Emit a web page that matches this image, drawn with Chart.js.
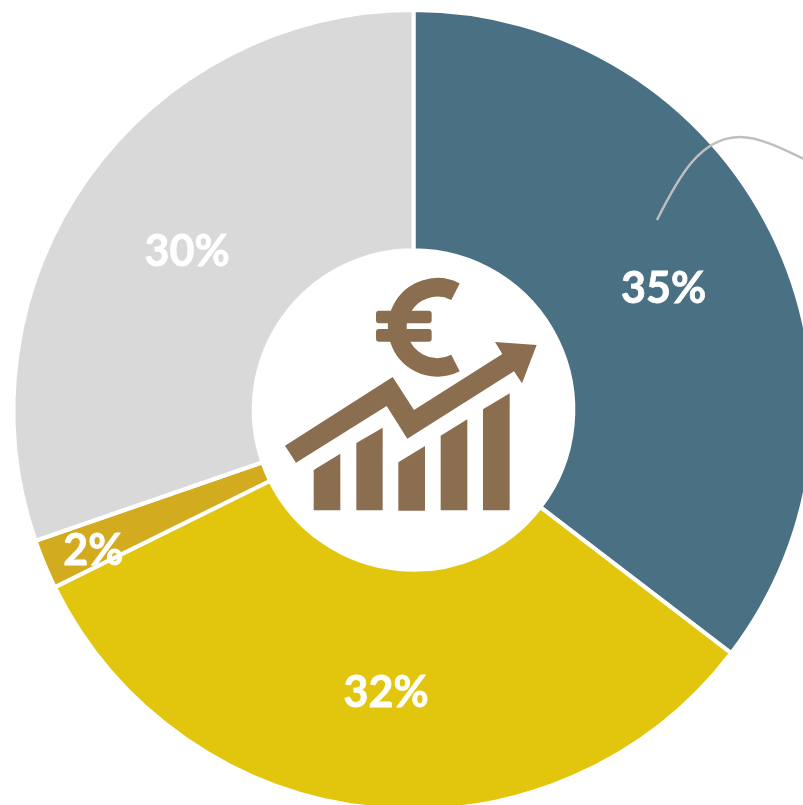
<!DOCTYPE html>
<html>
<head>
<meta charset="utf-8">
<style>
html,body{margin:0;padding:0;background:#fff;overflow:hidden;width:803px;height:805px}
#wrap{position:absolute;left:0;top:0;width:827px;height:820px}
</style>
<script src="https://cdn.jsdelivr.net/npm/chart.js@4/dist/chart.umd.min.js"></script>
</head>
<body>
<div id="wrap"><canvas id="c" width="827" height="820"></canvas></div>
<script>
const categories = ["A", "B", "C", "D"];
const values = [35.4, 32.3, 2.0, 30.3];
const labels = ["35%", "32%", "2%", "30%"];
const colors = ["#4A7084", "#E2C60D", "#D2AC1E", "#D9D9D9"];
const labelRadius = [279, 281, 347, 278];
const labelShiftY = [3, 3, 7, 3];

const overlay = {
  id: "overlay",
  afterDatasetsDraw(chart) {
    const ctx = chart.ctx;
    const arcs = chart.getDatasetMeta(0).data;
    ctx.save();
    // leader line
    ctx.strokeStyle = "#BFBFBF";
    ctx.lineWidth = 2.5;
    ctx.beginPath();
    ctx.moveTo(657, 220);
    ctx.bezierCurveTo(678, 178, 700, 137, 740, 137);
    ctx.bezierCurveTo(760, 137, 785, 150, 804, 159);
    ctx.stroke();

    // centre icon, drawn in zoomed reference units
    ctx.save();
    ctx.translate(240, 240);
    ctx.scale(1 / 3, 1 / 3);
    ctx.fillStyle = "#8B6D50";
    ctx.strokeStyle = "#8B6D50";
    const polys = [
      [135,617,458,411,522,510,787,342,765,306,890,315,846,430,822,394,502,596,440,498,168,668],
      [221,690,301,641,301,811,221,811],
      [349,609,428,563,428,811,349,811],
      [475,667,555,618,555,812,475,812],
      [602,587,682,538,682,811,602,811],
      [729,508,809,460,809,811,729,811]
    ];
    polys.forEach(p => {
      ctx.beginPath();
      ctx.moveTo(p[0], p[1]);
      for (let i = 2; i < p.length; i += 2) ctx.lineTo(p[i], p[i + 1]);
      ctx.closePath();
      ctx.fill();
    });
    ctx.lineWidth = 56;
    ctx.beginPath();
    ctx.arc(592, 262, 120, -63 * Math.PI / 180, 63 * Math.PI / 180, true);
    ctx.stroke();
    ctx.beginPath();
    ctx.roundRect(408, 212, 167, 38, 9);
    ctx.roundRect(408, 267, 167, 38, 9);
    ctx.fill();
    ctx.restore();

    // percentage labels
    ctx.fillStyle = "#FFFFFF";
    ctx.strokeStyle = "#FFFFFF";
    ctx.lineWidth = 0.8;
    ctx.font = "700 43px Lato";
    ctx.textAlign = "center";
    ctx.textBaseline = "middle";
    arcs.forEach((arc, i) => {
      const mid = (arc.startAngle + arc.endAngle) / 2;
      const x = arc.x + Math.cos(mid) * labelRadius[i];
      const y = arc.y + Math.sin(mid) * labelRadius[i] + labelShiftY[i];
      ctx.fillText(labels[i], x, y);
      ctx.strokeText(labels[i], x, y);
    });
    ctx.restore();
  }
};

new Chart(document.getElementById("c"), {
  type: "doughnut",
  data: {
    labels: categories,
    datasets: [{
      data: values,
      backgroundColor: colors,
      borderColor: "#FFFFFF",
      borderWidth: 4
    }]
  },
  options: {
    responsive: false,
    animation: false,
    radius: 400,
    cutout: 163,
    plugins: { legend: { display: false }, tooltip: { enabled: false } }
  },
  plugins: [overlay]
});
</script>
</body>
</html>
